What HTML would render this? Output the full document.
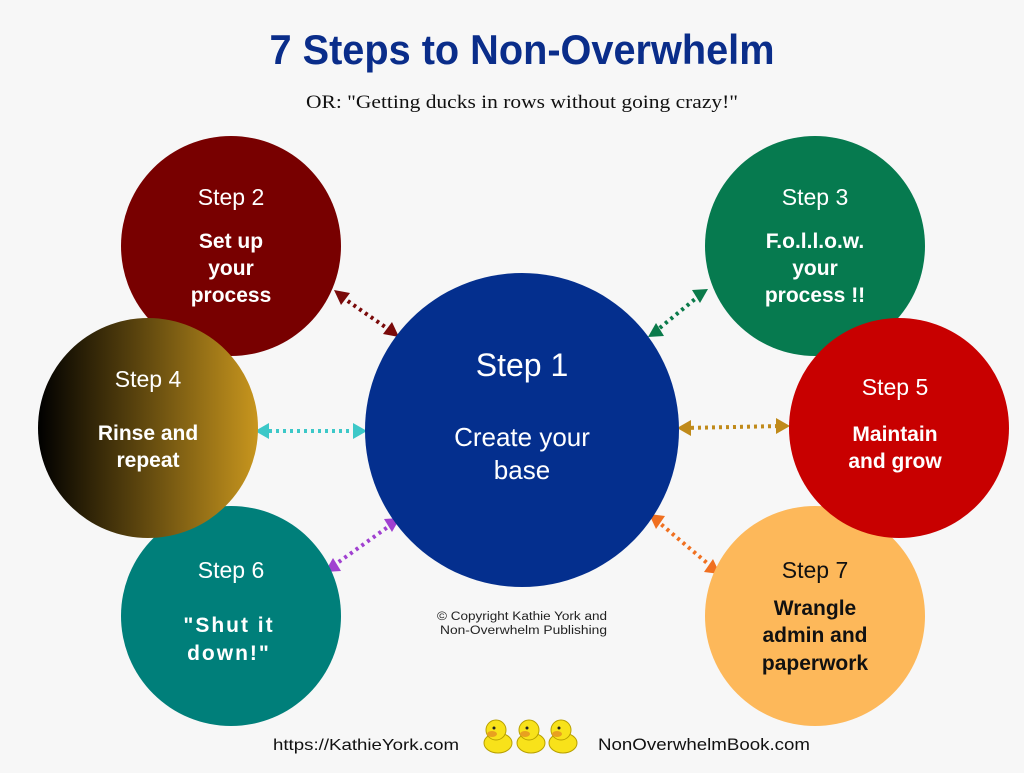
<!DOCTYPE html>
<html><head><style>
body{margin:0;width:1024px;height:768px;background:#f7f7f7;overflow:hidden;font-family:"Liberation Sans",sans-serif}
</style></head><body>
<svg width="1024" height="768" xmlns="http://www.w3.org/2000/svg">
<defs>
<linearGradient id="g4" x1="0" x2="1" y1="0" y2="0"><stop offset="0" stop-color="#000"/><stop offset="1" stop-color="#c8961e"/></linearGradient>
</defs>
<text x="522" y="64" text-anchor="middle" font-family="Liberation Sans Narrow, Liberation Sans, sans-serif" font-weight="bold" font-size="42" fill="#0a2d8a" textLength="505" lengthAdjust="spacingAndGlyphs">7 Steps to Non-Overwhelm</text>
<text x="522" y="108" text-anchor="middle" font-family="Liberation Serif, serif" font-size="19" fill="#111" textLength="432" lengthAdjust="spacingAndGlyphs">OR: "Getting ducks in rows without going crazy!"</text>

<g stroke-width="4" stroke-dasharray="3 4" fill="none">
<line x1="342" y1="297" x2="391" y2="331" stroke="#7a0a0a"/>
<line x1="700" y1="295" x2="656" y2="331" stroke="#0a7a4a"/>
<line x1="262" y1="431" x2="360" y2="431" stroke="#3cc8c8"/>
<line x1="684" y1="428" x2="783" y2="426" stroke="#c08a1a"/>
<line x1="333" y1="566" x2="392" y2="524" stroke="#a040d0"/>
<line x1="656" y1="520" x2="713" y2="568" stroke="#f07020"/>
</g>
<g>
<polygon points="334,290 350,293 341,305" fill="#7a0a0a"/><polygon points="399,337 383,334 392,322" fill="#7a0a0a"/>
<polygon points="708,289 700,303 692,290" fill="#0a7a4a"/><polygon points="648,337 656,323 664,336" fill="#0a7a4a"/>
<polygon points="255,431 269,423 269,439" fill="#3cc8c8"/><polygon points="367,431 353,423 353,439" fill="#3cc8c8"/>
<polygon points="677,428 691,420 691,436" fill="#c08a1a"/><polygon points="790,426 776,418 776,434" fill="#c08a1a"/>
<polygon points="325,572 333,558 341,571" fill="#a040d0"/><polygon points="400,518 392,532 384,519" fill="#a040d0"/>
<polygon points="649,514 665,516 656,529" fill="#f07020"/><polygon points="720,574 704,572 713,559" fill="#f07020"/>
</g>

<circle cx="231" cy="246" r="110" fill="#780000"/>
<circle cx="815" cy="246" r="110" fill="#067a4f"/>
<circle cx="231" cy="616" r="110" fill="#007f7a"/>
<circle cx="815" cy="616" r="110" fill="#fdb85a"/>
<circle cx="148" cy="428" r="110" fill="url(#g4)"/>
<circle cx="899" cy="428" r="110" fill="#c80000"/>
<circle cx="522" cy="430" r="157" fill="#042f8e"/>

<g font-family="Liberation Sans, sans-serif" fill="#fff" text-anchor="middle">
<text x="231" y="205" font-size="23">Step 2</text>
<g font-weight="bold" font-size="21"><text x="231" y="248">Set up</text><text x="231" y="275">your</text><text x="231" y="302">process</text></g>
<text x="815" y="205" font-size="23">Step 3</text>
<g font-weight="bold" font-size="21"><text x="815" y="248">F.o.l.l.o.w.</text><text x="815" y="275">your</text><text x="815" y="302">process !!</text></g>
<text x="148" y="387" font-size="23">Step 4</text>
<g font-weight="bold" font-size="21"><text x="148" y="440">Rinse and</text><text x="148" y="467">repeat</text></g>
<text x="895" y="395" font-size="23">Step 5</text>
<g font-weight="bold" font-size="21"><text x="895" y="441">Maintain</text><text x="895" y="468">and grow</text></g>
<text x="231" y="578" font-size="23">Step 6</text>
<g font-weight="bold" font-size="21" letter-spacing="2"><text x="229" y="632">"Shut it</text><text x="229" y="660">down!"</text></g>
<text x="815" y="578" font-size="23" fill="#111">Step 7</text>
<g font-weight="bold" font-size="21" fill="#111"><text x="815" y="615">Wrangle</text><text x="815" y="642">admin and</text><text x="815" y="670">paperwork</text></g>
<text x="522" y="376" font-size="32">Step 1</text>
<text x="522" y="446" font-size="26">Create your</text>
<text x="522" y="479" font-size="26">base</text>
</g>
<g font-size="11.5" fill="#222"><text x="437" y="620" textLength="170" lengthAdjust="spacingAndGlyphs">© Copyright Kathie York and</text><text x="440" y="634" textLength="167" lengthAdjust="spacingAndGlyphs">Non-Overwhelm Publishing</text></g>
<text x="273" y="750" font-size="16" fill="#111" textLength="186" lengthAdjust="spacingAndGlyphs">https://KathieYork.com</text>
<text x="598" y="750" font-size="16.5" fill="#111" textLength="212" lengthAdjust="spacingAndGlyphs">NonOverwhelmBook.com</text>
<g>
<g id="d"><ellipse cx="498" cy="743" rx="14" ry="10" fill="#f8e21a" stroke="#b8a000"/><circle cx="496" cy="730" r="10" fill="#f8e21a" stroke="#b8a000"/><ellipse cx="492" cy="734" rx="5" ry="3" fill="#e8a020"/><circle cx="494" cy="728" r="1.5" fill="#222"/></g>
<use href="#d" x="33"/><use href="#d" x="65"/>
</g>
</svg>
</body></html>
